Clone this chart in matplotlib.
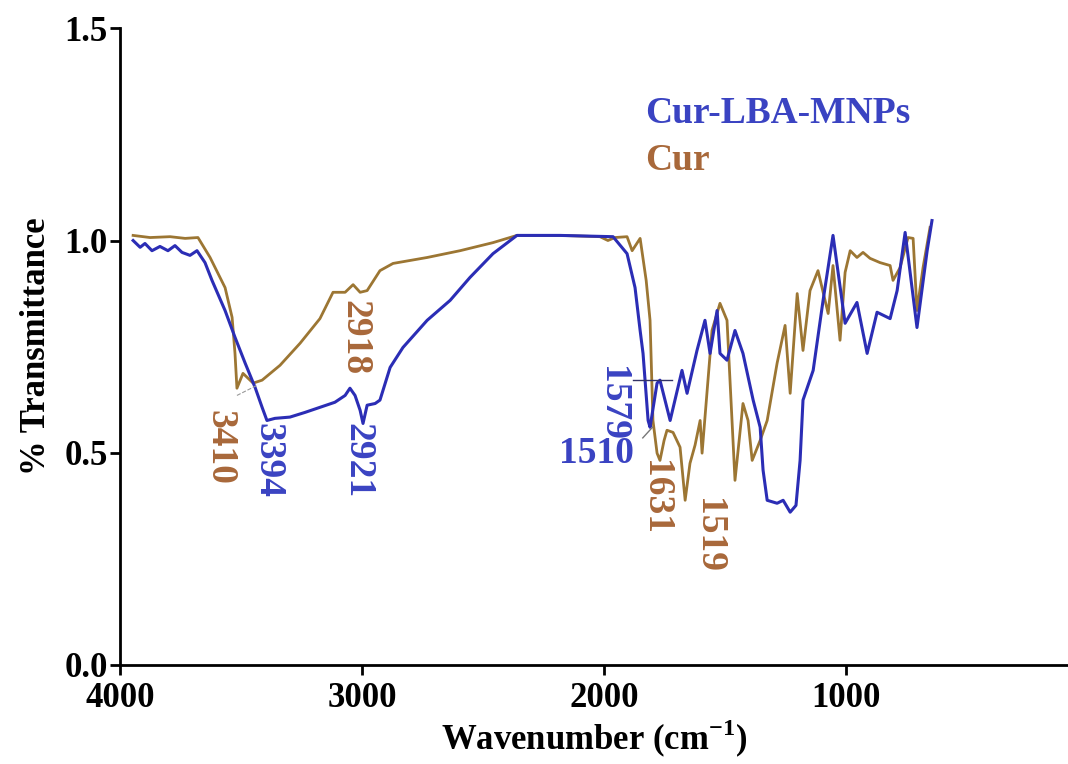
import matplotlib
matplotlib.use("Agg")
import matplotlib.pyplot as plt

plt.rcParams['font.family'] = ['Liberation Serif', 'DejaVu Serif']
plt.rcParams['font.weight'] = 'bold'
plt.rcParams['mathtext.fontset'] = 'custom'
plt.rcParams['mathtext.rm'] = 'Liberation Serif:bold'
plt.rcParams['mathtext.bf'] = 'Liberation Serif:bold'

# --- data ---
cur_wn = [3946, 3876, 3793, 3731, 3678, 3628, 3566, 3537, 3525, 3517, 3492, 3450, 3413,
          3339, 3256, 3174, 3120, 3070, 3037, 3008, 2979, 2926, 2872, 2731, 2595, 2459,
          2360, 2182, 2017, 1984, 1955, 1905, 1884, 1851, 1826, 1810, 1798, 1781, 1769,
          1752, 1740, 1715, 1686, 1665, 1645, 1624, 1603, 1595, 1574, 1554, 1521, 1492,
          1459, 1426, 1405, 1388, 1355, 1326, 1285, 1252, 1231, 1202, 1178, 1149, 1116,
          1074, 1054, 1025, 1004, 983, 955, 930, 901, 860, 818, 806, 777, 744, 723, 707,
          682, 653]
cur_t = [1.012, 1.007, 1.009, 1.005, 1.007, 0.960, 0.889, 0.819, 0.734, 0.652, 0.687,
         0.664, 0.671, 0.706, 0.758, 0.816, 0.878, 0.878, 0.896, 0.878, 0.882, 0.929,
         0.946, 0.960, 0.976, 0.995, 1.012, 1.012, 1.009, 1.000, 1.007, 1.009, 0.976,
         1.005, 0.906, 0.812, 0.576, 0.499, 0.482, 0.529, 0.553, 0.548, 0.513, 0.388,
         0.475, 0.518, 0.576, 0.499, 0.647, 0.788, 0.852, 0.812, 0.435, 0.616, 0.576,
         0.482, 0.529, 0.576, 0.711, 0.800, 0.640, 0.875, 0.741, 0.882, 0.929, 0.828,
         0.941, 0.765, 0.925, 0.976, 0.960, 0.972, 0.958, 0.948, 0.941, 0.906, 0.936,
         1.007, 1.005, 0.835, 0.936, 1.031]

mnp_wn = [3946, 3917, 3897, 3868, 3835, 3802, 3773, 3744, 3711, 3682, 3649, 3620, 3566,
          3525, 3483, 3442, 3413, 3393, 3360, 3298, 3236, 3174, 3112, 3070, 3050, 3029,
          3008, 2996, 2979, 2946, 2926, 2884, 2831, 2731, 2636, 2554, 2459, 2360, 2182,
          1963, 1905, 1872, 1851, 1839, 1818, 1810, 1781, 1769, 1727, 1678, 1657, 1616,
          1583, 1562, 1533, 1521, 1492, 1459, 1426, 1384, 1355, 1343, 1326, 1285, 1260,
          1231, 1207, 1190, 1178, 1136, 1095, 1054, 1004, 955, 913, 872, 818, 789, 756,
          707, 665, 645]
mnp_t = [1.000, 0.984, 0.993, 0.976, 0.986, 0.976, 0.988, 0.972, 0.965, 0.976, 0.948,
         0.906, 0.835, 0.772, 0.711, 0.654, 0.607, 0.576, 0.581, 0.584, 0.595, 0.607,
         0.619, 0.635, 0.652, 0.635, 0.600, 0.569, 0.612, 0.616, 0.624, 0.701, 0.748,
         0.812, 0.859, 0.913, 0.969, 1.012, 1.012, 1.009, 0.969, 0.889, 0.788, 0.734,
         0.576, 0.560, 0.664, 0.671, 0.576, 0.694, 0.640, 0.741, 0.812, 0.734, 0.835,
         0.734, 0.718, 0.788, 0.734, 0.624, 0.560, 0.459, 0.388, 0.381, 0.388, 0.360,
         0.376, 0.482, 0.624, 0.694, 0.859, 1.012, 0.805, 0.854, 0.734, 0.831, 0.816,
         0.882, 1.019, 0.795, 0.976, 1.047]

series_names = ["Cur-LBA-MNPs", "Cur"]
x_ticks = [4000, 3000, 2000, 1000]
y_ticks = [0.0, 0.5, 1.0, 1.5]

# peak labels: text, x, y, colour key, rotation
peak_text = ["3410", "3394", "2918", "2921", "1579", "1510", "1631", "1519"]
peak_x = [3587, 3388, 3029, 3017, 1967, 2030, 1789, 1570]
peak_y = [0.513, 0.482, 0.772, 0.482, 0.616, 0.499, 0.395, 0.306]
peak_series = [1, 0, 1, 0, 0, 0, 1, 1]
peak_rot = [270, 270, 270, 270, 270, 0, 270, 270]

line_colors = ["#2B2DB5", "#9C7633"]
text_colors = ["#3A43C2", "#A8683A"]

fig = plt.figure(figsize=(10.68, 7.64), dpi=100)
ax = fig.add_axes([0.1124, 0.1296, 0.8876, 0.8334])

ax.plot(cur_wn, cur_t, color=line_colors[1], lw=2.0, solid_joinstyle='round')
ax.plot(mnp_wn, mnp_t, color=line_colors[0], lw=2.2, solid_joinstyle='round')

ax.set_xlim(4000, 83)
ax.set_ylim(0, 1.5)
ax.set_xticks(x_ticks)
ax.set_xticklabels([str(t) for t in x_ticks])
ax.set_yticks(y_ticks)
ax.set_yticklabels([f"{t:.1f}" for t in y_ticks])

for s in ["top", "right"]:
    ax.spines[s].set_visible(False)
for s in ["left", "bottom"]:
    ax.spines[s].set_linewidth(2.0)
ax.tick_params(axis='both', direction='out', length=7, width=2.0, labelsize=25)
ax.tick_params(axis='x', pad=5)
ax.tick_params(axis='y', pad=2)
for lab in ax.get_xticklabels() + ax.get_yticklabels():
    lab.set_fontweight('bold')

ax.set_xlabel("Wavenumber (cm$^{-1}$)", fontsize=25, fontweight='bold', labelpad=2)
ax.set_ylabel("% Transmittance", fontsize=25, fontweight='bold', labelpad=8)

# legend-like texts
ax.text(1831, 1.30, series_names[0], color=text_colors[0], fontsize=27,
        fontweight='bold', ha='left', va='center')
ax.text(1831, 1.188, series_names[1], color=text_colors[1], fontsize=27,
        fontweight='bold', ha='left', va='center')

for t, x, y, s, r in zip(peak_text, peak_x, peak_y, peak_series, peak_rot):
    ax.text(x, y, t, color=text_colors[s], fontsize=27, fontweight='bold',
            rotation=r, ha='center', va='center')

# leader lines
ax.plot([3517, 3430], [0.635, 0.66], color='#999999', lw=0.8, ls='--')
ax.plot([1880, 1720], [0.671, 0.671], color='#333366', lw=1.0)
ax.plot([1840, 1800], [0.535, 0.56], color='#777777', lw=1.0)

fig.savefig("out.png", dpi=100)
